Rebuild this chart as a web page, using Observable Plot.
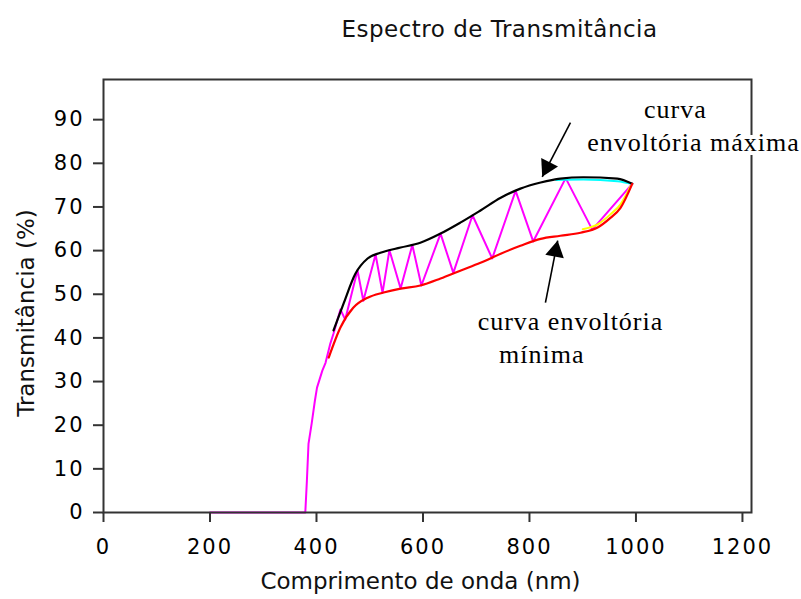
<!DOCTYPE html>
<html>
<head>
<meta charset="utf-8">
<script src="https://cdn.jsdelivr.net/npm/d3@7"></script>
<script src="https://cdn.jsdelivr.net/npm/@observablehq/plot@0.6"></script>
<style>
  html, body { margin: 0; padding: 0; background: #fff; }
  .ticklab text { letter-spacing: 2px; }
  .ann text { letter-spacing: 1px; }
  .ttl text { letter-spacing: 0.5px; }
</style>
</head>
<body>
<div id="chart"></div>
<script>
// ---- Data ----
// Measured transmittance spectrum (magenta): [wavelength nm, T %]
const spectrum = [
  [200, 0], [379, 0], [382, 7.3], [385, 15.7], [391, 20.4], [397, 25.6], [401, 28.6],
  [411, 32.5], [417, 34.3], [426, 38.7], [432, 41], [439, 44],
  [445, 46.5], [454, 44.2], [477, 55.5], [488, 48.5], [511, 59.1], [524, 50.3],
  [537, 60.1], [558, 51.3], [580, 61.3], [597, 52.0], [633, 63.9], [657, 54.9],
  [693, 68.1], [730, 58.2], [774, 73.7], [807, 62.1], [868, 76.6], [918, 64.8],
  [993, 75.3]
];
// Maximum envelope (black)
const envMax = [
  [432, 41.7], [451, 47.9], [473, 54.7], [496, 58.2], [520, 59.5], [558, 60.7],
  [595, 61.8], [633, 63.9], [670, 66.4], [708, 69.2], [746, 72.1], [783, 74.2],
  [821, 75.6], [858, 76.5], [901, 76.8], [965, 76.5], [993, 75.3]
];
// Minimum envelope (red)
const envMin = [
  [423, 35.5], [445, 42.4], [469, 46.9], [496, 49.2], [526, 50.4], [558, 51.3],
  [595, 52.0], [633, 53.6], [670, 55.4], [708, 57.2], [746, 59.3], [783, 61.1],
  [821, 62.7], [858, 63.4], [896, 64.1], [928, 65.3], [952, 67.5], [971, 69.8],
  [993, 75.3]
];
// Secondary envelope traces (cyan upper, yellow lower)
const envMaxAlt = [[850, 76.2], [901, 76.3], [965, 75.9], [993, 75.3]];
const envMinAlt = [[900, 64.9], [928, 66.0], [952, 68.3], [971, 70.6], [990, 74.8]];

// Axis ticks
const xTicks = [0, 200, 400, 600, 800, 1000, 1200];
const yTicks = [0, 10, 20, 30, 40, 50, 60, 70, 80, 90];

// Texts
const titleText = "Espectro de Transmitância";
const xLabel = "Comprimento de onda (nm)";
const yLabel = "Transmitância (%)";
const annotations = [
  {x: 1074, y: 90.4, text: "curva"},
  {x: 1108, y: 82.9, text: "envoltória máxima"},
  {x: 877, y: 41.7, text: "curva envoltória"},
  {x: 823, y: 34.3, text: "mínima"}
];
// Arrows: start -> tip (data units)
const arrowMax = {x1: 877, y1: 89.3, x2: 824, y2: 76.9};
const arrowMin = {x1: 830, y1: 48.1, x2: 853, y2: 62.3};

const toObj = a => a.map(([x, y]) => ({x, y}));

const plot = Plot.plot({
  width: 801,
  height: 599,
  marginLeft: 103,
  marginRight: 50,
  marginTop: 79,
  marginBottom: 87,
  style: {fontFamily: "DejaVu Sans", background: "#fff", color: "#000", overflow: "visible"},
  x: {domain: [0, 1217]},
  y: {domain: [0, 99.2]},
  marks: [
    Plot.line(toObj(spectrum), {x: "x", y: "y", stroke: "#ff00ff", strokeWidth: 2}),
    Plot.line(toObj(envMaxAlt), {x: "x", y: "y", stroke: "#00ffff", strokeWidth: 2, curve: "monotone-x"}),
    Plot.line(toObj(envMinAlt), {x: "x", y: "y", stroke: "#ffff00", strokeWidth: 2, curve: "monotone-x"}),
    Plot.line(toObj(envMax), {x: "x", y: "y", stroke: "#000", strokeWidth: 2.2, curve: "monotone-x"}),
    Plot.line(toObj(envMin), {x: "x", y: "y", stroke: "#ff0000", strokeWidth: 2.2, curve: "monotone-x"}),
    Plot.frame({stroke: "#333", strokeWidth: 2}),
    Plot.axisX({ticks: xTicks, tickFormat: d => String(d), tickSize: 10, tickPadding: 17, fontSize: 21,
      label: null, strokeWidth: 2, stroke: "#333", className: "ticklab"}),
    Plot.axisY({ticks: yTicks, tickFormat: d => String(d), tickSize: 10, tickPadding: 9, fontSize: 21,
      label: null, strokeWidth: 2, stroke: "#333", className: "ticklab"}),
    // arrows
    Plot.link([arrowMax, arrowMin], {x1: "x1", y1: "y1", x2: "x2", y2: "y2", stroke: "#000", strokeWidth: 1.6}),
    Plot.dot([arrowMax], {x: "x2", y: "y2", symbol: "triangle", r: 7, fill: "#000", stroke: "none", rotate: 207, dx: 4.9, dy: -9.7}),
    Plot.dot([arrowMin], {x: "x2", y: "y2", symbol: "triangle", r: 7, fill: "#000", stroke: "none", rotate: 11, dx: -2.1, dy: 10.6}),
    // annotations
    Plot.text(annotations, {x: "x", y: "y", text: "text", lineAnchor: "bottom", textAnchor: "middle",
      fontFamily: "Liberation Serif", fontSize: 26, fill: "#000", stroke: "#fff", strokeWidth: 8,
      paintOrder: "stroke", className: "ann"}),
    // title and axis labels
    Plot.text([titleText], {frameAnchor: "top", lineAnchor: "middle", textAnchor: "middle", dx: 72, dy: -50,
      fontSize: 23, fill: "#111", className: "ttl"}),
    Plot.text([xLabel], {frameAnchor: "bottom", lineAnchor: "middle", textAnchor: "middle", dx: -7, dy: 69,
      fontSize: 23, fill: "#111"}),
    Plot.text([yLabel], {frameAnchor: "left", lineAnchor: "middle", textAnchor: "middle", dx: -77, dy: 17,
      rotate: -90, fontSize: 23, fill: "#111"})
  ]
});
document.getElementById("chart").appendChild(plot);
</script>
</body>
</html>
